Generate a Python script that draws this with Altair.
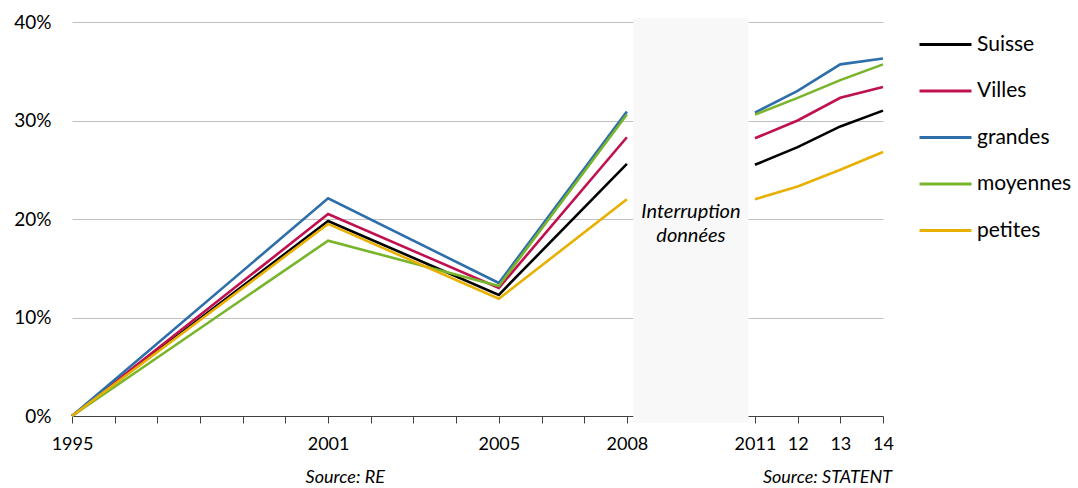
import altair as alt
import pandas as pd

years = [1995, 2001, 2005, 2008, 2011, 2012, 2013, 2014]
segments = ["RE", "RE", "RE", "RE", "STATENT", "STATENT", "STATENT", "STATENT"]
names = ["Suisse", "Villes", "grandes", "moyennes", "petites"]
colors = ["#000000", "#C0104F", "#2E6EAA", "#78B52A", "#E8B000"]
suisse = [0, 19.8, 12.3, 25.6, 25.5, 27.3, 29.4, 31.0]
villes = [0, 20.5, 13.0, 28.3, 28.2, 30.0, 32.3, 33.4]
grandes = [0, 22.1, 13.5, 30.9, 30.8, 33.0, 35.7, 36.3]
moyennes = [0, 17.8, 13.2, 30.6, 30.6, 32.3, 34.1, 35.7]
petites = [0, 19.5, 11.9, 22.0, 22.0, 23.3, 25.0, 26.8]
tick_years = [1995, 1996, 1997, 1998, 1999, 2000, 2001, 2002, 2003, 2004,
              2005, 2006, 2007, 2008, 2011, 2012, 2013, 2014]
y_ticks = [0, 0.1, 0.2, 0.3, 0.4]

gap = {"x": [2008.15], "x2": [2010.85], "y": [0.4041], "y2": [-0.0068]}
gap_text = ["Interruption", "données"]
gap_text_pos = [(2009.5, 0.2076), (2009.5, 0.1832)]
sources = ["Source: RE", "Source: STATENT"]
source_x = [2001.4, 2012.7]

rows = []
for name, vals in zip(names, [suisse, villes, grandes, moyennes, petites]):
    for yr, v, seg in zip(years, vals, segments):
        rows.append({"year": yr, "value": v / 100, "series": name, "segment": seg})
df = pd.DataFrame(rows)

FONT = "Lato"

xscale = alt.Scale(domain=[1995, 2014], nice=False, zero=False)
yscale = alt.Scale(domain=[0, 0.4], nice=False)

lines = alt.Chart(df).mark_line(strokeWidth=2.6).encode(
    x=alt.X("year:Q", scale=xscale,
            axis=alt.Axis(values=tick_years, format="d", title=None, grid=False,
                          tickSize=7, tickColor="#404040", domainColor="#404040",
                          labelFontSize=18, labelFont=FONT, labelColor="#000000",
                          labelPadding=12, labelOverlap=False, labelFlush=False,
                          labelExpr="indexof([1995,2001,2005,2008,2011], datum.value) >= 0 ? datum.label : (datum.value >= 2012 ? substring(datum.label, 2) : '')")),
    y=alt.Y("value:Q", scale=yscale,
            axis=alt.Axis(values=y_ticks, format=".0%", title=None, grid=True,
                          gridColor="#BFBFBF", gridWidth=1, domain=False, ticks=False,
                          labelFontSize=19, labelFont=FONT, labelColor="#000000",
                          labelPadding=21)),
    color=alt.Color("series:N", sort=names,
                    scale=alt.Scale(domain=names, range=colors),
                    legend=alt.Legend(title=None, orient="none", legendX=846, legendY=-5,
                                      symbolType="stroke", symbolSize=2704,
                                      symbolStrokeWidth=3, labelFontSize=21,
                                      labelFont=FONT, labelColor="#000000",
                                      rowPadding=8.5, labelOffset=4)),
    detail="segment:N",
    order=alt.Order("year:Q"),
)

box = alt.Chart(pd.DataFrame(gap)).mark_rect(color="#F8F8F8").encode(
    x=alt.X("x:Q", scale=xscale), x2="x2:Q",
    y=alt.Y("y:Q", scale=yscale), y2="y2:Q",
)

gt = alt.Chart(pd.DataFrame({"t": gap_text, "x": [p[0] for p in gap_text_pos],
                             "y": [p[1] for p in gap_text_pos]})).mark_text(
    font=FONT, fontSize=20, fontStyle="italic", color="#000000", align="center",
    baseline="middle").encode(
    x=alt.X("x:Q", scale=xscale), y=alt.Y("y:Q", scale=yscale), text="t:N")

src = alt.Chart(pd.DataFrame({"t": sources, "x": source_x})).mark_text(
    font=FONT, fontSize=18, fontStyle="italic", color="#000000", align="center",
    baseline="middle").encode(
    x=alt.X("x:Q", scale=xscale), y=alt.value(456), text="t:N")

chart = alt.layer(lines, box, gt, src).properties(
    width=811, height=394,
    autosize=alt.AutoSizeParams(type="none"),
    padding={"left": 72, "top": 22, "right": 195, "bottom": 72},
    background="#FFFFFF",
).configure_view(stroke=None)

chart.save("out.html", embed_options={"renderer": "svg", "actions": False})
